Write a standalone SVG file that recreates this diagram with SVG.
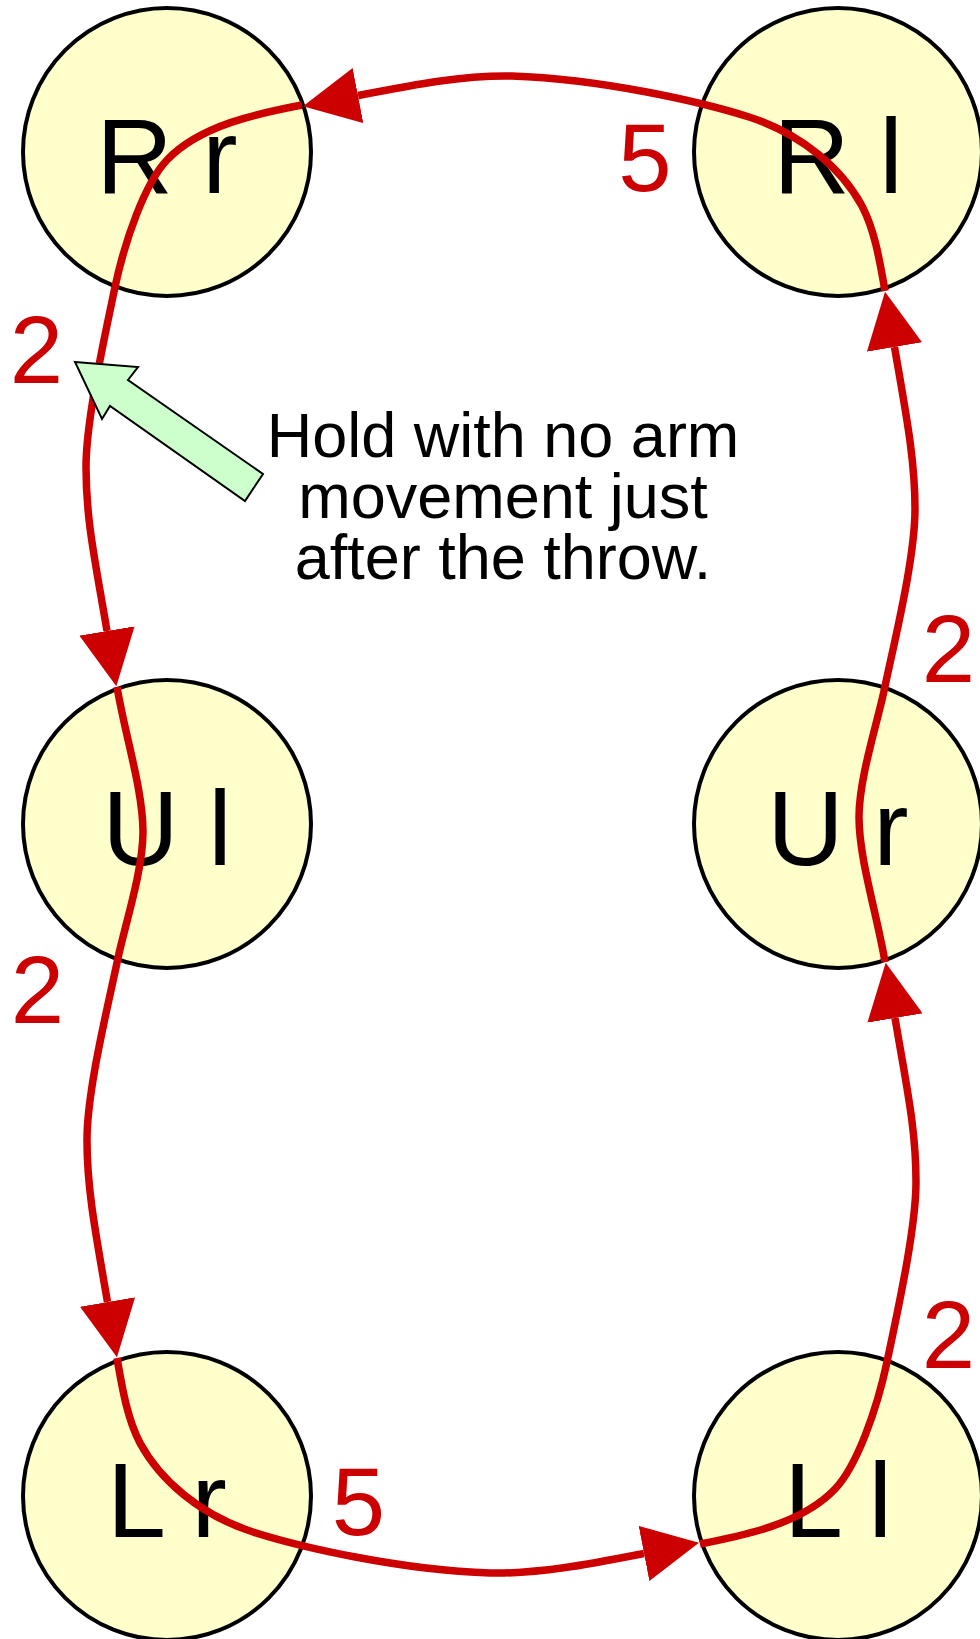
<svg xmlns="http://www.w3.org/2000/svg" width="980" height="1639" viewBox="0 0 980 1639">
<style>
.node circle{fill:#ffffcc;stroke:#000;stroke-width:4}
.node text{font-family:"Liberation Sans",Arial,sans-serif;font-size:106px;fill:#000;text-anchor:middle}
.edge{fill:none;stroke:#cc0000;stroke-width:7.5;marker-end:url(#arr)}
.elabel{font-family:"Liberation Sans",Arial,sans-serif;font-size:96px;fill:#cc0000;text-anchor:middle}
.note{font-family:"Liberation Sans",Arial,sans-serif;font-size:63px;fill:#000;text-anchor:middle}
</style>
<defs>
<marker id="arr" markerUnits="userSpaceOnUse" markerWidth="56" markerHeight="56" viewBox="0 0 56 56" refX="0" refY="28" orient="auto">
<path d="M0,0 L56,28 L0,56 z" fill="#cc0000"/>
</marker>
</defs>
<rect width="980" height="1639" fill="#fff"/>
<g id="node-Rr" class="node"><circle cx="167" cy="152" r="144"/><text x="167" y="193">R r</text></g>
<g id="node-Rl" class="node"><circle cx="838" cy="152" r="144"/><text x="838" y="193">R l</text></g>
<g id="node-Ul" class="node"><circle cx="167" cy="824" r="144"/><text x="167" y="865">U l</text></g>
<g id="node-Ur" class="node"><circle cx="838" cy="824" r="144"/><text x="838" y="865">U r</text></g>
<g id="node-Lr" class="node"><circle cx="167" cy="1496" r="144"/><text x="167" y="1537">L r</text></g>
<g id="node-Ll" class="node"><circle cx="838" cy="1496" r="144"/><text x="838" y="1537">L l</text></g>
<g id="connectors">
<path id="e-Rr-Ul" class="edge" d="M302,105 C260,113 200,125 167,160 C145,183 125,240 115,287 C105,335 86,420 86,467 C86,520 95,560 107,631"/>
<path id="e-Ul-Lr" class="edge" d="M117,687 C125,735 143,790 143,832 C143,870 125,925 118,958 C108,1006 87,1090 87,1140 C87,1190 96,1235 107.5,1302"/>
<path id="e-Lr-Ll" class="edge" d="M117,1358 C123,1393 128,1420 140,1443 C160,1480 200,1515 253,1532 C300,1547 400,1570 490,1573 C540,1574 590,1564 644,1553.5"/>
<path id="e-Ll-Ur" class="edge" d="M700,1544 C742,1536 802,1524 835,1489 C857,1466 877,1409 887,1362 C897,1314 916,1229 916,1182 C916,1129 907,1089 895,1018"/>
<path id="e-Ur-Rl" class="edge" d="M885,962 C877,914 859,859 859,817 C859,779 877,724 884,691 C894,643 915,559 915,509 C915,459 906,414 894.5,347"/>
<path id="e-Rl-Rr" class="edge" d="M885,291 C879,256 874,229 862,206 C842,169 802,134 749,117 C702,102 602,79 512,76 C462,75 412,85 358,95.5"/>
</g>
<g id="edge-labels">
<text class="elabel" x="36.5" y="383">2</text>
<text class="elabel" x="37.5" y="1023">2</text>
<text class="elabel" x="948.5" y="682">2</text>
<text class="elabel" x="948.5" y="1368">2</text>
<text class="elabel" x="645" y="191">5</text>
<text class="elabel" x="358.5" y="1535">5</text>
</g>
<g id="annotation">
<polygon points="75,362 138,367 128,380 263,474 245,501 110,406 102,419" fill="#ccffcc" stroke="#000" stroke-width="2"/>
<text class="note" x="503" y="457">Hold with no arm</text>
<text class="note" x="503" y="518">movement just</text>
<text class="note" x="503" y="579">after the throw.</text>
</g>
</svg>
